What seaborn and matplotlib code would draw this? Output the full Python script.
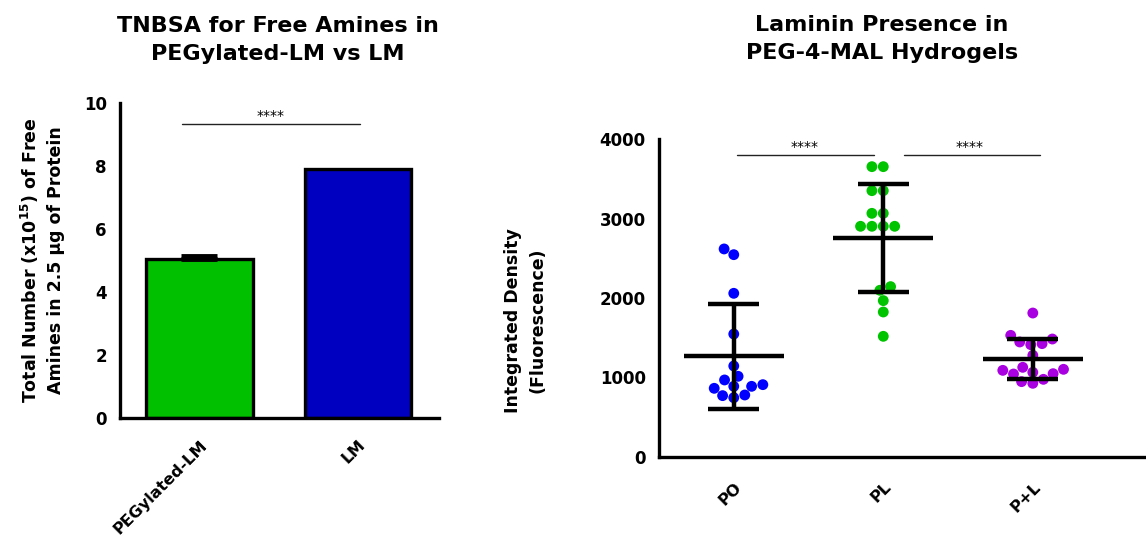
import numpy as np
import pandas as pd
import matplotlib
matplotlib.use("Agg")
import matplotlib.pyplot as plt
import seaborn as sns

# ---- TNBSA free-amine assay (bar chart) ----
amine_groups = ["PEGylated-LM", "LM"]
amine_means = [5.05, 7.90]
amine_err = [0.09, 0.0]
amine_colors = ["#00C000", "#0000C0"]

# ---- Laminin presence in hydrogels (scatter with mean ± SD) ----
gel_groups = ["PO", "PL", "P+L"]
po_values = [2545, 2617, 2059, 1547, 1145, 1015, 969, 910, 889, 889, 864, 780, 772, 746]
pl_values = [3652, 3652, 3350, 3350, 3065, 3065, 2902, 2902, 2902, 2902,
             2097, 2143, 1967, 1824, 1518]
pl_plus_values = [1811, 1530, 1484, 1447, 1413, 1426, 1279, 1128, 1090, 1048,
                  1103, 1065, 1044, 977, 927, 948]
gel_colors = ["#0000FF", "#00C400", "#A800E0"]

sns.set_theme(style="white")
plt.rcParams["font.family"] = ["DejaVu Sans"]
plt.rcParams["mathtext.default"] = "bf"
for key in ("text.color", "axes.labelcolor", "xtick.color", "ytick.color", "axes.edgecolor"):
    plt.rcParams[key] = "black"

W, H = 1146, 553
fig = plt.figure(figsize=(W / 100, H / 100), dpi=100)

def px_axes(left, top, right, bottom):
    return fig.add_axes([left / W, 1 - bottom / H, (right - left) / W, (bottom - top) / H])

ax1 = px_axes(120, 103, 439, 418)
ax2 = px_axes(659, 139, 1146, 457)

spine_lw = 2.4
for ax in (ax1, ax2):
    for side in ("top", "right"):
        ax.spines[side].set_visible(False)
    for side in ("left", "bottom"):
        ax.spines[side].set_linewidth(spine_lw)
        ax.spines[side].set_color("black")
    ax.tick_params(axis="both", which="major", length=6, width=spine_lw,
                   color="black", labelcolor="black", direction="out", labelsize=12)
    ax.grid(False)

# ---- left panel ----
bar_df = pd.DataFrame({"group": amine_groups, "value": amine_means})
sns.barplot(data=bar_df, x="group", y="value", hue="group", palette=amine_colors,
            legend=False, width=0.67, edgecolor="black", linewidth=2.4,
            saturation=1, errorbar=None, ax=ax1)
err_idx = [i for i, e in enumerate(amine_err) if e > 0]
ax1.errorbar(err_idx, [amine_means[i] for i in err_idx],
             yerr=[[0] * len(err_idx), [amine_err[i] for i in err_idx]],
             fmt="none", ecolor="black", elinewidth=2.4, capsize=13, capthick=3.5,
             zorder=5)
ax1.set_xlim(-0.5, 1.51)
ax1.set_ylim(0, 10)
ax1.spines["left"].set_bounds(0, 10)
ax1.set_yticks([0, 2, 4, 6, 8, 10])
ax1.set_xlabel("")
ax1.set_ylabel("Total Number (x10$^{15}$) of Free\nAmines in 2.5 µg of Protein",
               fontsize=12.5, fontweight="bold", linespacing=1.45)
ax1.yaxis.set_label_coords(-0.245, 0.5)
ax1.yaxis.label.set_va("center")
for lab in ax1.get_yticklabels():
    lab.set_fontweight("bold")
ax1.set_xticks(range(len(amine_groups)))
ax1.set_xticklabels(amine_groups, rotation=45, ha="right", va="top",
                    rotation_mode="anchor", fontsize=11.5, fontweight="bold")
ax1.tick_params(axis="x", pad=8)

ax1.plot([-0.11, 1.01], [9.33, 9.33], color="#222222", lw=1.0)
ax1.text(0.45, 9.36, "****", ha="center", va="bottom", fontsize=10)

# ---- right panel ----
gel_df = pd.DataFrame({
    "group": np.repeat(gel_groups, [len(po_values), len(pl_values), len(pl_plus_values)]),
    "value": po_values + pl_values + pl_plus_values,
})
sns.swarmplot(data=gel_df, x="group", y="value", hue="group", order=gel_groups,
              palette=gel_colors, legend=False, size=7.8, ax=ax2, zorder=2)

for i, vals in enumerate([po_values, pl_values, pl_plus_values]):
    m = np.mean(vals)
    sd = np.std(vals, ddof=1)
    ax2.hlines(m, i - 0.335, i + 0.335, color="black", lw=3.2, zorder=4)
    ax2.vlines(i, m - sd, m + sd, color="black", lw=3.2, zorder=4)
    ax2.hlines([m - sd, m + sd], i - 0.17, i + 0.17, color="black", lw=3.2, zorder=4)

ax2.set_xlim(-0.5, 2.757)
ax2.set_ylim(0, 4000)
ax2.spines["left"].set_bounds(0, 4000)
ax2.set_yticks([0, 1000, 2000, 3000, 4000])
ax2.set_xlabel("")
ax2.set_ylabel("Integrated Density\n(Fluorescence)", fontsize=12.5,
               fontweight="bold", linespacing=1.45)
ax2.yaxis.set_label_coords(-0.275, 0.43)
ax2.yaxis.label.set_va("center")
for lab in ax2.get_yticklabels():
    lab.set_fontweight("bold")
ax2.set_xticks(range(len(gel_groups)))
ax2.set_xticklabels(gel_groups, rotation=45, ha="right", va="top",
                    rotation_mode="anchor", fontsize=11.5, fontweight="bold")
ax2.tick_params(axis="x", pad=10)

for x0, x1, xs in [(0.02, 0.94, 0.475), (1.14, 2.05, 1.58)]:
    ax2.plot([x0, x1], [3800, 3800], color="#222222", lw=1.0)
    ax2.text(xs, 3815, "****", ha="center", va="bottom", fontsize=10)

# ---- titles ----
fig.text(278 / W, 1 - 40 / H, "TNBSA for Free Amines in\nPEGylated-LM vs LM",
         ha="center", va="center", fontsize=16, fontweight="bold",
         linespacing=1.5)
fig.text(882 / W, 1 - 39 / H, "Laminin Presence in\nPEG-4-MAL Hydrogels",
         ha="center", va="center", fontsize=16, fontweight="bold",
         linespacing=1.5)

fig.savefig("out.png", dpi=100, facecolor="white")
